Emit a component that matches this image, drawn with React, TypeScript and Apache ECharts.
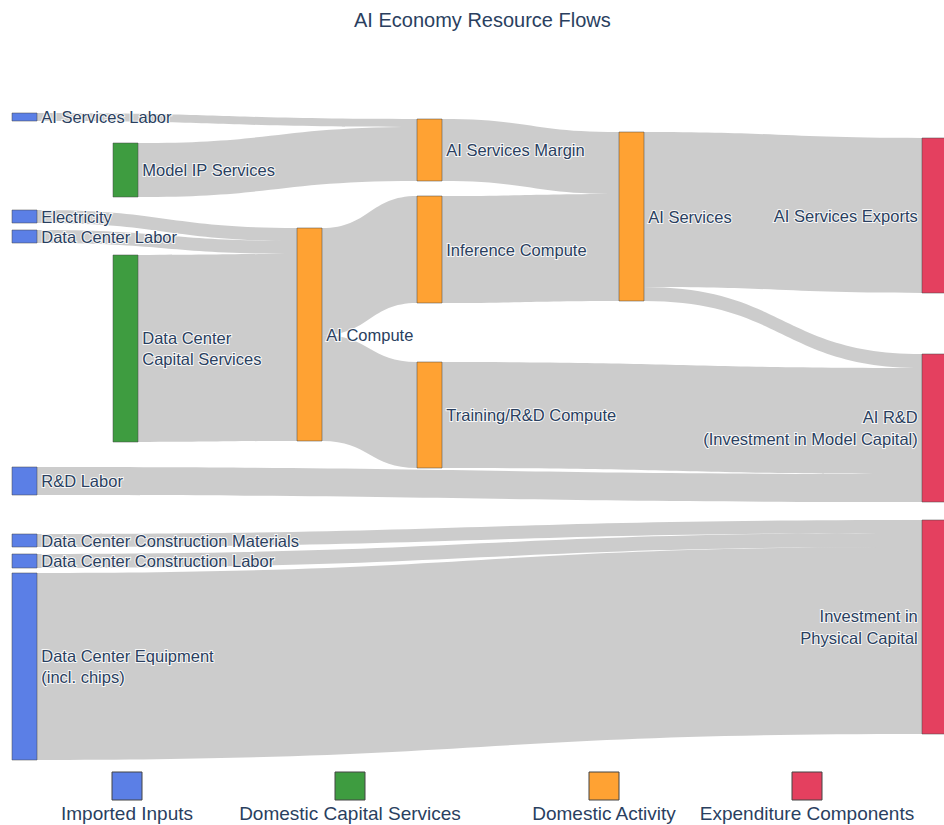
import React, { useEffect, useRef } from "react";
import * as echarts from "echarts";

// ---- Data ----
const nodeNames = [
  "AI Services Labor",
  "Electricity",
  "Data Center Labor",
  "Data Center Construction Materials",
  "Data Center Construction Labor",
  "Data Center Equipment\n(incl. chips)",
  "R&D Labor",
  "Model IP Services",
  "Data Center\nCapital Services",
  "AI Compute",
  "AI Services Margin",
  "Inference Compute",
  "Training/R&D Compute",
  "AI Services",
  "AI Services Exports",
  "AI R&D\n(Investment in Model Capital)",
  "Investment in\nPhysical Capital",
];
// column (stage) of each node
const nodeDepths = [0, 0, 0, 0, 0, 0, 0, 1, 1, 2, 3, 3, 3, 4, 5, 5, 5];
// group of each node (index into legend)
const nodeGroups = [0, 0, 0, 0, 0, 0, 0, 1, 1, 2, 2, 2, 2, 2, 3, 3, 3];

const linkSources = [
  "AI Services Labor",
  "Model IP Services",
  "Electricity",
  "Data Center Labor",
  "Data Center\nCapital Services",
  "AI Compute",
  "AI Compute",
  "AI Services Margin",
  "Inference Compute",
  "AI Services",
  "AI Services",
  "Training/R&D Compute",
  "R&D Labor",
  "Data Center Construction Materials",
  "Data Center Construction Labor",
  "Data Center Equipment\n(incl. chips)",
];
const linkTargets = [
  "AI Services Margin",
  "AI Services Margin",
  "AI Compute",
  "AI Compute",
  "AI Compute",
  "Inference Compute",
  "Training/R&D Compute",
  "AI Services",
  "AI Services",
  "AI Services Exports",
  "AI R&D\n(Investment in Model Capital)",
  "AI R&D\n(Investment in Model Capital)",
  "AI R&D\n(Investment in Model Capital)",
  "Investment in\nPhysical Capital",
  "Investment in\nPhysical Capital",
  "Investment in\nPhysical Capital",
];
const linkValues = [8, 54, 13, 13, 187, 107, 106, 62, 107, 155, 14, 106, 28, 13, 14, 187];

const legendLabels = [
  "Imported Inputs",
  "Domestic Capital Services",
  "Domestic Activity",
  "Expenditure Components",
];

// ---- Layout / styles (node arrangement in pixels of the page) ----
const nodeLeftPx = [12, 12, 12, 12, 12, 12, 12, 113, 113, 297, 417, 417, 417, 619, 922, 922, 922];
const nodeTopPx = [113, 210, 230, 534, 554, 573, 467, 143, 255, 228, 119, 196, 362, 132, 138, 354, 520];
const groupColors = ["#5b7fe6", "#3e9c40", "#ffa233", "#e4405f"];
const legendCenters = [127, 350, 604, 807];

const FONT = "'Liberation Sans', Arial, Helvetica, sans-serif";
const TEXT = "#2a3f5f";

const SERIES_LEFT = 12;
const SERIES_TOP = 113;
const SERIES_W = 910;
const SERIES_H = 537;

export default function App() {
  const ref = useRef<HTMLDivElement>(null);

  useEffect(() => {
    if (!ref.current) return;
    const chart = echarts.init(ref.current, null, { renderer: "svg" });

    const data = nodeNames.map((name, i) => {
      const last = nodeDepths[i] === 5;
      return {
        name,
        depth: nodeDepths[i],
        localX: (nodeLeftPx[i] - SERIES_LEFT) / SERIES_W,
        localY: (nodeTopPx[i] - SERIES_TOP) / SERIES_H,
        itemStyle: { color: groupColors[nodeGroups[i]] },
        label: last ? { position: "left", align: "right" } : { position: "right", align: "left" },
      };
    });

    const links = linkValues.map((v, i) => ({
      source: linkSources[i],
      target: linkTargets[i],
      value: v,
    }));

    const graphic: any[] = [];
    legendLabels.forEach((label, i) => {
      const cx = legendCenters[i];
      graphic.push({
        type: "rect",
        shape: { x: cx - 15, y: 772, width: 30, height: 28 },
        style: { fill: groupColors[i], stroke: "#444", lineWidth: 1 },
      });
      graphic.push({
        type: "text",
        x: cx,
        y: 813,
        style: {
          text: label,
          align: "center",
          verticalAlign: "middle",
          fontSize: 19,
          fontFamily: FONT,
          fill: TEXT,
        },
      });
    });

    chart.setOption({
      animation: false,
      backgroundColor: "#ffffff",
      title: {
        text: "AI Economy Resource Flows",
        left: 349,
        top: 5,
        textStyle: { fontSize: 20, fontWeight: "normal", color: TEXT, fontFamily: FONT },
      },
      graphic,
      series: [
        {
          type: "sankey",
          left: SERIES_LEFT,
          top: SERIES_TOP,
          width: SERIES_W,
          height: SERIES_H,
          nodeWidth: 25,
          nodeGap: 10,
          layoutIterations: 0,
          nodeAlign: "left",
          draggable: false,
          emphasis: { disabled: true },
          data,
          links,
          itemStyle: { borderColor: "#444", borderWidth: 0.5 },
          lineStyle: { color: "#000", opacity: 0.2, curveness: 0.5 },
          label: {
            show: true,
            distance: 4,
            fontSize: 16.5,
            lineHeight: 21.5,
            color: TEXT,
            fontFamily: FONT,
            textBorderColor: "rgba(255,255,255,0.85)",
            textBorderWidth: 2,
          },
        },
      ],
    });

    return () => chart.dispose();
  }, []);

  return (
    <div
      ref={ref}
      style={{ position: "fixed", left: 0, top: 0, width: 944, height: 825 }}
    />
  );
}
